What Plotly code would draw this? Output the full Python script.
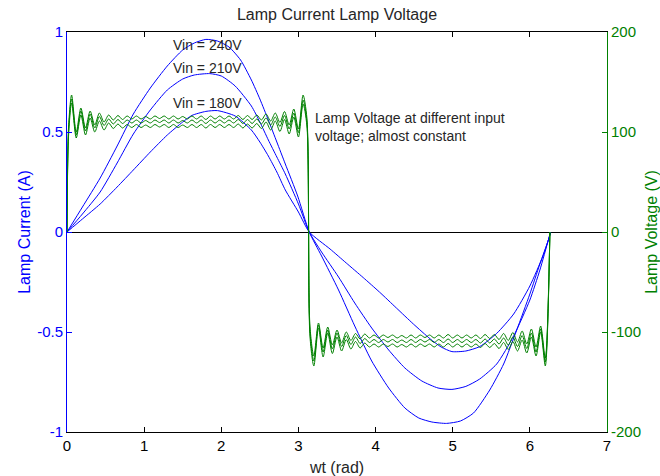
import plotly.graph_objects as go

# ---------------- Lamp current (A) ----------------
wt_240 = [0, 0.2, 0.43, 0.65, 0.86, 1.08, 1.30, 1.50, 1.65, 1.80, 1.95, 2.10, 2.25, 2.39, 2.50, 2.61, 2.72, 2.83, 2.99, 3.14,
          3.30, 3.52, 3.73, 3.95, 4.17, 4.38, 4.56, 4.73, 4.92, 5.10, 5.27, 5.48, 5.66, 5.83, 6.00, 6.13, 6.24, 6.27]
i_240 = [0, 0.125, 0.27, 0.43, 0.59, 0.72, 0.83, 0.91, 0.945, 0.963, 0.955, 0.925, 0.86, 0.76, 0.665, 0.56, 0.45, 0.34, 0.18, 0.0,
         -0.12, -0.29, -0.47, -0.645, -0.78, -0.88, -0.93, -0.95, -0.957, -0.945, -0.905, -0.79, -0.66, -0.49, -0.31, -0.16, -0.04, 0.0]

wt_210 = [0, 0.2, 0.43, 0.65, 0.86, 1.08, 1.30, 1.50, 1.65, 1.85, 2.00, 2.18, 2.39, 2.50, 2.61, 2.72, 2.83, 3.00, 3.14,
          3.30, 3.52, 3.73, 3.95, 4.17, 4.38, 4.60, 4.81, 4.99, 5.17, 5.35, 5.57, 5.79, 6.00, 6.13, 6.24, 6.27]
i_210 = [0, 0.09, 0.2, 0.345, 0.49, 0.61, 0.71, 0.765, 0.785, 0.792, 0.78, 0.73, 0.63, 0.55, 0.46, 0.375, 0.29, 0.14, 0.0,
         -0.1, -0.225, -0.355, -0.48, -0.59, -0.68, -0.745, -0.78, -0.787, -0.772, -0.735, -0.66, -0.52, -0.34, -0.19, -0.04, 0.0]

wt_180 = [0, 0.2, 0.43, 0.65, 0.86, 1.08, 1.30, 1.50, 1.62, 1.80, 1.95, 2.18, 2.39, 2.50, 2.61, 2.72, 2.83, 3.00, 3.14,
          3.41, 3.62, 3.84, 4.05, 4.27, 4.49, 4.71, 4.85, 4.99, 5.17, 5.35, 5.57, 5.79, 6.00, 6.17, 6.24, 6.27]
i_180 = [0, 0.065, 0.14, 0.225, 0.31, 0.40, 0.485, 0.55, 0.583, 0.603, 0.607, 0.58, 0.51, 0.45, 0.38, 0.30, 0.21, 0.10, 0.0,
         -0.085, -0.155, -0.228, -0.3, -0.38, -0.46, -0.535, -0.575, -0.598, -0.595, -0.573, -0.507, -0.41, -0.27, -0.12, -0.04, 0.0]

# ---------------- Lamp voltage (V) ----------------
wt_v_pos = [0.0, 0.02,
            0.06, 0.12, 0.18, 0.24, 0.30, 0.36, 0.42, 0.48, 0.54, 0.60,
            0.66, 0.72, 0.78, 0.84, 0.90, 0.96, 1.02, 1.08, 1.14, 1.20,
            1.26, 1.32, 1.38, 1.44, 1.50, 1.56, 1.62, 1.68, 1.74, 1.80,
            1.86, 1.92, 1.98, 2.04, 2.10, 2.16, 2.22, 2.28, 2.34, 2.40,
            2.46, 2.52, 2.58, 2.64, 2.70, 2.76, 2.82, 2.88, 2.94, 3.00,
            3.06, 3.11]
wt_v_neg = [3.15,
            3.20, 3.26, 3.32, 3.38, 3.44, 3.50, 3.56, 3.62, 3.68, 3.74,
            3.80, 3.86, 3.92, 3.98, 4.04, 4.10, 4.16, 4.22, 4.28, 4.34,
            4.40, 4.46, 4.52, 4.58, 4.64, 4.70, 4.76, 4.82, 4.88, 4.94,
            5.00, 5.06, 5.12, 5.18, 5.24, 5.30, 5.36, 5.42, 5.48, 5.54,
            5.60, 5.66, 5.72, 5.78, 5.84, 5.90, 5.96, 6.02, 6.08, 6.14,
            6.20, 6.26]

v_a_pos = [0, 105,
           137, 100, 124, 104, 121, 107, 119, 110, 117, 112,
           116.5, 112.5, 116, 113, 116, 113, 115.5, 113, 116, 113.5,
           116, 113, 116, 113, 115.5, 113, 116, 113, 116, 112.5,
           116, 113, 116, 113, 116, 113, 116.5, 112.5, 116.5, 112.5,
           117, 112, 118, 111, 119, 109.5, 120.5, 107, 123, 103,
           137, 114]
v_b_pos = [0, 100,
           133, 97, 121, 101, 118, 104, 115.5, 106.5, 113, 108,
           112.5, 108.5, 112, 109, 112, 109, 111.5, 109, 112, 109.5,
           112, 109, 112, 109, 111.5, 109, 112, 109, 112, 108.5,
           112, 109, 112, 109, 112, 109, 112.5, 108.5, 112.5, 108.5,
           113, 108, 114, 107, 115, 105.5, 116.5, 103, 119, 99.5,
           132, 110]
v_c_pos = [0, 96,
           129, 94, 117, 97, 114, 100, 111, 102, 109, 103.5,
           108, 104, 107.5, 104.5, 107.5, 104.5, 107, 104.5, 107.5, 105,
           107.5, 104.5, 107.5, 104.5, 107, 104.5, 107.5, 104.5, 107.5, 104,
           107.5, 104.5, 107.5, 104.5, 107.5, 104.5, 108, 104, 108, 104,
           108.5, 103.5, 110, 102, 111, 100.5, 112.5, 98, 115, 95,
           128, 106]

v_a_neg = [-95,
           -124, -91, -116, -95, -113, -98, -111, -100, -108.5, -101.5,
           -107, -102, -106, -103, -106, -103, -105.5, -103, -106, -103.5,
           -106, -103, -106, -103, -105.5, -103, -106, -103, -106, -102.5,
           -106, -103, -106, -103, -106, -103, -106.5, -102.5, -106.5, -102.5,
           -107.5, -101.5, -108.5, -100.5, -110, -99, -112, -97, -115, -94,
           -126, 0]
v_b_neg = [-100,
           -129, -93, -120, -98, -117, -101, -114.5, -103.5, -112.5, -105,
           -111.5, -106.5, -110.5, -107.5, -110.5, -107.5, -110, -107.5, -110.5, -108,
           -110.5, -107.5, -110.5, -107.5, -110, -107.5, -110.5, -107.5, -110.5, -107,
           -110.5, -107.5, -110.5, -107.5, -110.5, -107.5, -111, -107, -111, -107,
           -112, -106, -113, -105, -114.5, -103.5, -116.5, -101, -120, -97,
           -130, 0]
v_c_neg = [-105,
           -134, -96, -125, -101, -121.5, -105, -119, -107.5, -117, -109.5,
           -116, -111, -115, -112, -115, -112, -114.5, -112, -115, -112.5,
           -115, -112, -115, -112, -114.5, -112, -115, -112, -115, -111.5,
           -115, -112, -115, -112, -115, -112, -115.5, -111.5, -115.5, -111.5,
           -116.5, -110.5, -117.5, -109.5, -119, -108, -121, -105, -124, -100,
           -134, 0]

x_ticks = [0, 1, 2, 3, 4, 5, 6, 7]
i_ticks = [-1, -0.5, 0, 0.5, 1]
i_tick_text = ["-1", "-0.5", "0", "0.5", "1"]
v_ticks = [-200, -100, 0, 100, 200]
v_tick_text = ["-200", "-100", "0", "100", "200"]

labels = ["Vin = 240V", "Vin = 210V", "Vin = 180V"]
label_pos = [(1.82, 0.935), (1.82, 0.82), (1.82, 0.645)]

BLUE = "#0000ff"
GREEN = "#008000"
TXT = "#262626"
FONT = "Liberation Sans, Arial"

fig = go.Figure()

for xs, ys in [(wt_240, i_240), (wt_210, i_210), (wt_180, i_180)]:
    fig.add_trace(go.Scatter(x=xs, y=ys, mode="lines",
                             line=dict(color=BLUE, width=1, shape="spline", smoothing=0.6),
                             yaxis="y", showlegend=False, hoverinfo="skip"))

for vp, vn in [(v_a_pos, v_a_neg), (v_b_pos, v_b_neg), (v_c_pos, v_c_neg)]:
    fig.add_trace(go.Scatter(x=wt_v_pos + wt_v_neg, y=vp + vn, mode="lines",
                             line=dict(color=GREEN, width=1, shape="spline", smoothing=0.8),
                             yaxis="y2", showlegend=False, hoverinfo="skip"))

for t, (lx, ly) in zip(labels, label_pos):
    fig.add_annotation(x=lx, y=ly, xref="x", yref="y", text=t, showarrow=False,
                       font=dict(family=FONT, size=14, color=TXT))

fig.add_annotation(x=3.19, y=0.57, xref="x", yref="y", xanchor="left", yanchor="middle",
                   text="Lamp Voltage at different input", showarrow=False,
                   font=dict(family=FONT, size=14, color=TXT))
fig.add_annotation(x=3.19, y=0.48, xref="x", yref="y", xanchor="left", yanchor="middle",
                   text="voltage; almost constant", showarrow=False,
                   font=dict(family=FONT, size=14, color=TXT))

fig.update_layout(
    width=660, height=476,
    margin=dict(l=67, r=53, t=32, b=44),
    paper_bgcolor="white", plot_bgcolor="white",
    font=dict(family=FONT, size=15, color=TXT),
    title=dict(text="Lamp Current Lamp Voltage", x=337 / 660, xanchor="center",
               y=1 - 14 / 476, yanchor="middle", yref="container",
               font=dict(size=16, color=TXT)),
    xaxis=dict(range=[0, 7], tickvals=x_ticks, ticks="inside", ticklen=5, tickcolor="black",
               showline=True, linecolor="black", linewidth=1, mirror="ticks",
               showgrid=False, zeroline=False, automargin=False,
               tickfont=dict(size=15, color="black"),
               title=dict(text="wt (rad)", font=dict(size=16, color=TXT), standoff=8)),
    yaxis=dict(range=[-1, 1], tickvals=i_ticks, ticktext=i_tick_text, ticks="inside", ticklen=5,
               tickcolor=BLUE, showline=True, linecolor=BLUE, linewidth=1, automargin=False,
               showgrid=False, zeroline=True, zerolinecolor="black", zerolinewidth=1,
               tickfont=dict(size=15, color=BLUE),
               title=dict(text="Lamp Current (A)", font=dict(size=16, color=BLUE), standoff=2)),
    yaxis2=dict(range=[-200, 200], overlaying="y", side="right", tickvals=v_ticks,
                ticktext=v_tick_text, ticks="inside", ticklen=5, tickcolor=GREEN, automargin=False,
                showline=True, linecolor=GREEN, linewidth=1, showgrid=False, zeroline=False,
                tickfont=dict(size=15, color=GREEN),
                title=dict(text="Lamp Voltage (V)", font=dict(size=16, color=GREEN), standoff=6)),
)

fig.write_html("out.html")
